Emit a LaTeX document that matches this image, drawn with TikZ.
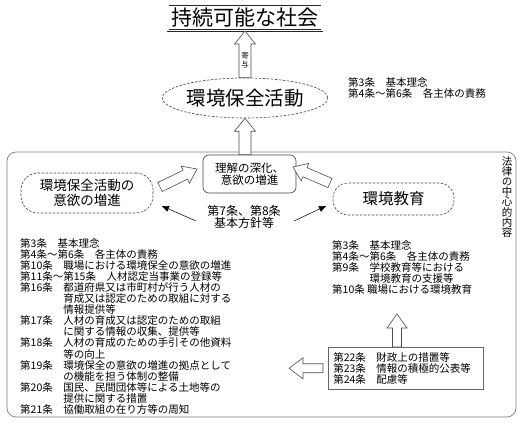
\documentclass[tikz,border=0pt]{standalone}
\usepackage{fontspec}
\setmainfont{Noto Sans CJK JP}
\usetikzlibrary{calc,arrows.meta,shapes.geometric}
\newcommand{\fs}[2]{\fontsize{#1}{#2}\selectfont\lineskiplimit=-20pt\lineskip=0pt\relax}
% hollow block arrow: from, to, half shaft width, half head width, head length
\newcommand{\hollowarr}[5]{%
  \coordinate (hb) at ($(#2)!#5!(#1)$);
  \draw[hollow] ($(#1)!#3!90:(#2)$) -- ($(hb)!#3!90:(#2)$) -- ($(hb)!#4!90:(#2)$) -- (#2)
    -- ($(hb)!#4!-90:(#2)$) -- ($(hb)!#3!-90:(#2)$) -- ($(#1)!#3!-90:(#2)$) -- cycle;}
\begin{document}
\begin{tikzpicture}[x=1pt,y=-1pt,
  hollow/.style={draw=black!70, fill=white, line width=0.6pt, line join=miter},
  dashell/.style={draw=black!75, dash pattern=on 2.5pt off 1.5pt, line width=0.6pt},
  listtext/.style={inner sep=0pt, align=left, anchor=north west, font=\fs{10.5}{11.1}},
  thinarrow/.style={-{Triangle[length=7pt,width=6pt]}, line width=0.5pt}
]
\useasboundingbox (0,0) rectangle (525,425);

% frame
\node[draw=black!50, line width=0.7pt, rounded corners=9pt, minimum width=509pt, minimum height=265pt, inner sep=0pt] (frame) at (261.5,284.5) {};

% title
\node[draw=black!85, double, double distance=1.5pt, line width=0.6pt, minimum width=154pt, minimum height=26.5pt, inner sep=0pt, font=\fs{21}{23}] (title) at (245,17.5) {持続可能な社会};

% activity ellipse
\node[dashell, ellipse, minimum width=148pt, minimum height=40pt, inner sep=0pt, font=\fs{19.5}{21}] (act) at (245,98) {環境保全活動};

% top-right articles
\node[listtext] (listT) at (348,77) {第3条　基本理念\\ 第4条〜第6条　各主体の責務};

% understanding box
\node[draw=black!75, rounded corners=6pt, line width=0.6pt, minimum width=93pt, minimum height=38pt, inner sep=0pt, align=center, font=\fs{11.5}{12.5}] (und) at (249.5,174) {理解の深化、\\意欲の増進};

% left / right dashed shapes
\node[dashell, rounded corners=17pt, minimum width=132pt, minimum height=40pt, inner sep=0pt, align=center, font=\fs{13.5}{15}] (mot) at (87,193) {環境保全活動の\\意欲の増進};
\node[dashell, rounded corners=15pt, minimum width=121pt, minimum height=32pt, inner sep=0pt, font=\fs{15.5}{17}] (edu) at (393.5,199) {環境教育};

% middle text
\node[align=center, inner sep=0pt, font=\fs{12}{12}] (art78) at (244,217) {第7条、第8条\\基本方針等};

% vertical label
\node[inner sep=0pt, align=center, anchor=north, font=\fs{10.5}{10.2}] (law) at (507,156) {法\\律\\の\\中\\心\\的\\内\\容};

% lists
\node[listtext] (listL) at (20,238) {第3条　基本理念\\
第4条〜第6条　各主体の責務\\
第10条　職場における環境保全の意欲の増進\\
第11条〜第15条　人材認定当事業の登録等\\
第16条　都道府県又は市町村が行う人材の\\
\hphantom{第16条　}育成又は認定のための取組に対する\\
\hphantom{第16条　}情報提供等\\
第17条　人材の育成又は認定のための取組\\
\hphantom{第17条　}に関する情報の収集、提供等\\
第18条　人材の育成のための手引その他資料\\
\hphantom{第18条　}等の向上\\
第19条　環境保全の意欲の増進の拠点として\\
\hphantom{第19条　}の機能を担う体制の整備\\
第20条　国民、民間団体等による土地等の\\
\hphantom{第20条　}提供に関する措置\\
第21条　協働取組の在り方等の周知};

\node[listtext] (listR) at (332,240) {第3条　基本理念\\
第4条〜第6条　各主体の責務\\
第9条　学校教育等における\\
\hphantom{第9条　}環境教育の支援等\\
第10条 職場における環境教育};

% finance box
\node[draw=black!60, line width=0.6pt, anchor=north west, inner xsep=5pt, inner ysep=5pt, text width=145pt, align=left, font=\fs{10.5}{11.1}] (fin) at (328,347) {第22条　財政上の措置等\\
第23条　情報の積極的公表等\\
第24条　配慮等};

% hollow arrows
\hollowarr{act.north}{title.south}{6pt}{10.5pt}{13pt}
\node[inner sep=0pt, align=center, font=\fs{7.5}{8.5}] (kiyo) at (245,60) {寄\\与};
\coordinate (m1) at (und.north -| act.south);
\hollowarr{m1}{act.south}{6pt}{10.5pt}{13pt}
\coordinate (a1) at (160,187);
\coordinate (a2) at (197,169);
\hollowarr{a1}{a2}{5pt}{9.5pt}{13pt}
\coordinate (b1) at (330,183);
\coordinate (b2) at (293,167);
\hollowarr{b1}{b2}{5pt}{9.5pt}{13pt}
\coordinate (c1) at ($(fin.north west)+(69,0)$);
\coordinate (c2) at (397,314);
\hollowarr{c1}{c2}{4.5pt}{10pt}{14pt}
\coordinate (d1) at ($(fin.west)+(-5,0)$);
\coordinate (d2) at ($(fin.west)+(-39,0)$);
\hollowarr{d1}{d2}{4.5pt}{10.5pt}{14pt}

% thin arrows
\coordinate (t1) at (196,221);
\coordinate (t2) at (162,206);
\coordinate (u1) at (294,221);
\coordinate (u2) at (326,206);
\draw[thinarrow] (t1) -- (t2);
\draw[thinarrow] (u1) -- (u2);
\end{tikzpicture}
\end{document}
